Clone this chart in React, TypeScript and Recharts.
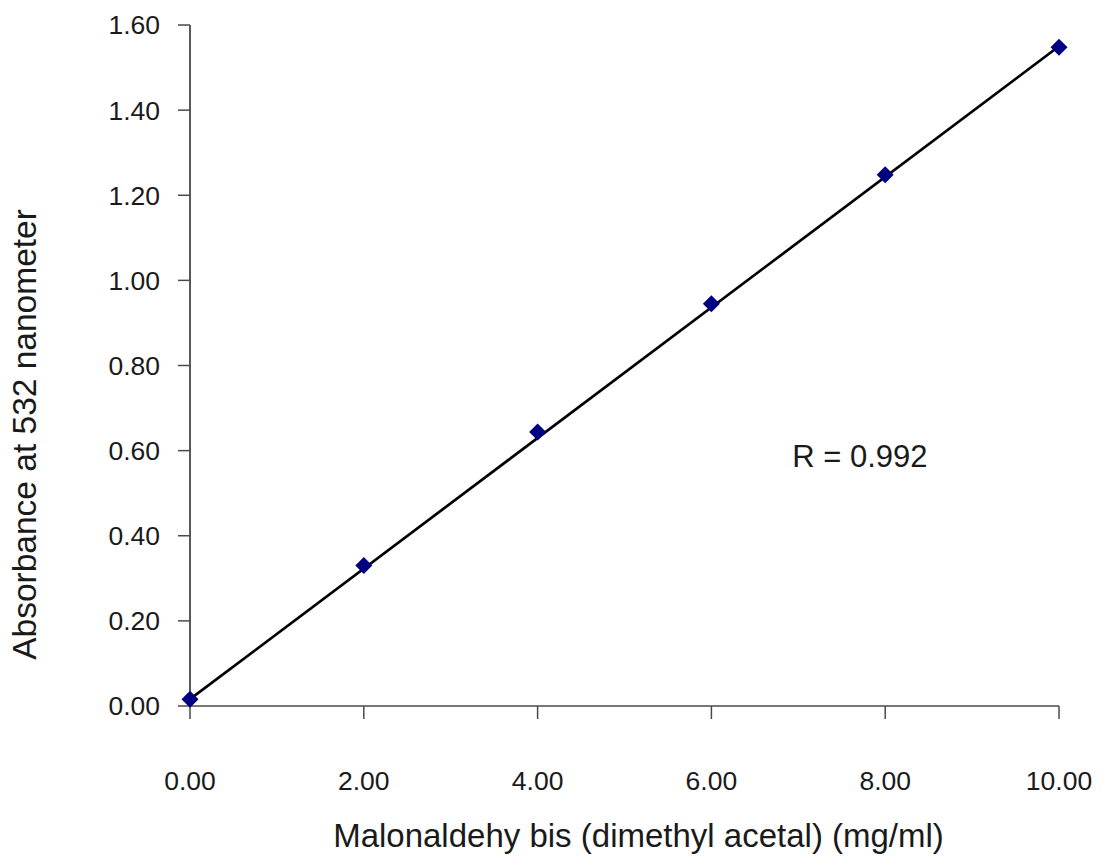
import {
  ComposedChart,
  Scatter,
  Line,
  XAxis,
  YAxis,
  ReferenceDot,
} from "recharts";

const FONT = '"Liberation Sans", Arial, sans-serif';
const AXIS_STROKE = "#4a4a4a";
const POINT_NAVY = "#000080";
const TEXT_COLOR = "#1a1a1a";

// concentration (mg/ml) vs absorbance at 532 nm
const concentrations = [0, 2, 4, 6, 8, 10];
const absorbances = [0.016, 0.33, 0.644, 0.945, 1.248, 1.548];

// fitted trend line ends
const trendX = [0, 10];
const trendY = [0.016, 1.55];

const xTicks = [0, 2, 4, 6, 8, 10];
const yTicks = [0, 0.2, 0.4, 0.6, 0.8, 1.0, 1.2, 1.4, 1.6];

const X_LABEL = "Malonaldehy bis (dimethyl acetal) (mg/ml)";
const Y_LABEL = "Absorbance at 532 nanometer";
const R_TEXT = "R = 0.992";
const R_POS = { x: 6.93, y: 0.561 };

const points = concentrations.map((x, i) => ({ x, y: absorbances[i] }));
const trend = trendX.map((x, i) => ({ x, y: trendY[i] }));

function Diamond(props: any) {
  const { cx, cy } = props;
  const h = 8.5;
  return (
    <path
      d={`M${cx},${cy - h}L${cx + h},${cy}L${cx},${cy + h}L${cx - h},${cy}Z`}
      fill={POINT_NAVY}
    />
  );
}

function XLabel(props: any) {
  const vb = props.viewBox;
  return (
    <text
      x={vb.x + vb.width / 2 + 14}
      y={vb.y + vb.height - 12}
      textAnchor="middle"
      fontSize={33}
      fontFamily={FONT}
      fill={TEXT_COLOR}
    >
      {X_LABEL}
    </text>
  );
}

function YLabel(props: any) {
  const vb = props.viewBox;
  const x = 36;
  const y = vb.y + vb.height / 2 + 69;
  return (
    <text
      x={x}
      y={y}
      transform={`rotate(-90, ${x}, ${y})`}
      textAnchor="middle"
      fontSize={33.5}
      fontFamily={FONT}
      fill={TEXT_COLOR}
    >
      {Y_LABEL}
    </text>
  );
}

function RText(props: any) {
  return (
    <text x={props.cx} y={props.cy} fontSize={31} fontFamily={FONT} fill={TEXT_COLOR}>
      {R_TEXT}
    </text>
  );
}

export default function App() {
  return (
    <div style={{ position: "absolute", left: 0, top: 0, background: "#fff" }}>
      <ComposedChart
        width={1102}
        height={859}
        margin={{ top: 25, right: 43, left: 0, bottom: 0 }}
      >
        <XAxis
          dataKey="x"
          type="number"
          domain={[0, 10]}
          ticks={xTicks}
          tickFormatter={(v: number) => v.toFixed(2)}
          height={153}
          tickSize={13}
          tickMargin={52}
          tick={{ fontSize: 26.5, fill: TEXT_COLOR, fontFamily: FONT }}
          axisLine={{ stroke: AXIS_STROKE, strokeWidth: 1.5 }}
          tickLine={{ stroke: AXIS_STROKE, strokeWidth: 1.5 }}
          label={<XLabel />}
        />
        <YAxis
          dataKey="y"
          type="number"
          domain={[0, 1.6]}
          ticks={yTicks}
          tickFormatter={(v: number) => v.toFixed(2)}
          width={190}
          tickSize={12}
          tickMargin={18}
          tick={{ fontSize: 26.5, fill: TEXT_COLOR, fontFamily: FONT }}
          axisLine={{ stroke: "#222", strokeWidth: 1.5 }}
          tickLine={{ stroke: AXIS_STROKE, strokeWidth: 1.5 }}
          label={<YLabel />}
        />
        <Line
          data={trend}
          dataKey="y"
          type="linear"
          stroke="#000"
          strokeWidth={2.7}
          dot={false}
          activeDot={false}
          isAnimationActive={false}
        />
        <Scatter
          data={points}
          dataKey="y"
          fill={POINT_NAVY}
          shape={<Diamond />}
          isAnimationActive={false}
        />
        <ReferenceDot x={R_POS.x} y={R_POS.y} r={0} shape={<RText />} />
      </ComposedChart>
    </div>
  );
}
